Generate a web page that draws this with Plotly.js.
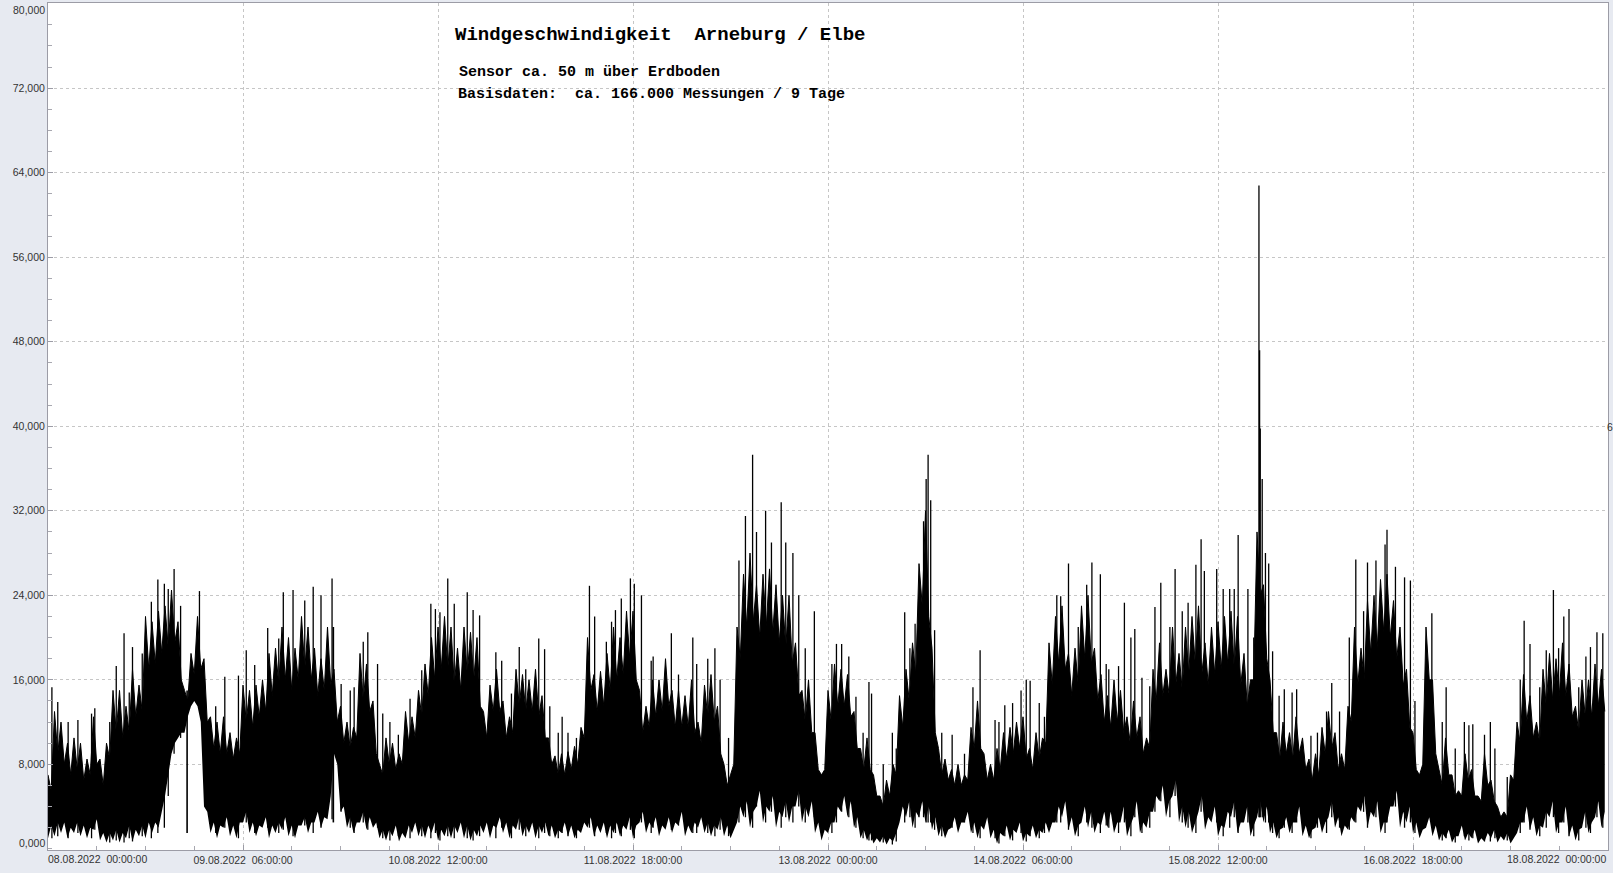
<!DOCTYPE html>
<html>
<head>
<meta charset="utf-8">
<script src="https://cdn.plot.ly/plotly-3.0.1.min.js"></script>
<style>
  html, body { margin: 0; padding: 0; background: #e7eaf1; }
  #chart { width: 1613px; height: 873px; }
</style>
</head>
<body>
<div id="chart"></div>
<script>
// Hourly upper edge of the dense band (hour 0 = 08.08.2022 00:00)
const bandHigh = [
  7000,13000,12000,10000,10500,10000,8500,12500,8500,10000,
  15000,15000,13500,17000,15500,22000,21500,22500,23000,24500,
  21500,15000,18500,22000,18000,12500,12000,12500,11000,10500,
  15500,15000,15500,16000,18500,19000,21000,20000,19000,22000,
  21000,19000,18000,21000,17000,13500,12000,11500,18500,17500,
  14000,8000,10500,10000,9000,13000,12500,15000,17500,20000,
  21000,22000,21000,19000,21000,20500,20000,13000,15500,17000,
  14000,12500,17000,16500,16000,17000,14500,10500,8800,9000,
  9200,9700,11500,20000,16500,16800,18500,21000,20000,22500,
  22500,15000,13500,16000,16000,18000,15000,15000,14500,16000,
  12000,15500,16500,13500,8000,7000,21000,26000,28000,25000,
  26000,26500,25000,24000,24000,19500,15000,16000,11000,7000,
  15000,17500,17000,16500,13000,9500,10500,7000,5000,6500,
  8000,14500,17000,19500,27000,32000,19000,9500,8500,7500,
  8000,7000,11500,14000,9000,8000,9500,11000,11500,12000,
  12500,9500,11000,10500,19500,22000,23000,18500,19000,23000,
  24000,19000,16500,14500,16000,15000,12500,14000,12500,10500,
  17000,19500,17000,21000,18500,21000,22000,23000,19500,21000,
  21500,22000,22500,22000,18500,16000,30000,25000,16000,11000,
  12000,11000,12500,10500,8500,9000,11500,13000,11000,9000,
  13500,21000,19000,23500,24000,25500,26000,23500,21000,17000,
  11000,7000,21000,16000,7500,10500,7000,5500,9000,7500,
  5000,9000,6500,4000,3500,7000,12000,16500,14500,12000,
  17000,18500,18000,19500,17500,13500,16000,16000,17500,17000
];
// Upper edge between the hourly tops (at hour + 0.5): the white notches between strokes
const bandHighMid = [
  5500,9000,8000,7000,7500,6500,7000,8000,6000,8500,
  11000,10500,11000,12500,13000,17000,17500,18500,19000,19500,
  16000,14000,16500,17000,12000,9500,9000,9000,8500,9000,
  12000,11500,12500,13000,14500,15500,16000,15000,16000,17000,
  16000,14500,15000,15500,12000,10000,9500,10500,14000,13000,
  9000,7000,8000,7500,8000,10000,10500,12500,14500,16000,
  17000,17000,15500,15000,16500,16000,13500,10500,13000,13000,
  10500,11000,13500,13000,13000,12500,10500,8000,7000,7000,
  7500,8000,10500,15000,13000,13500,15000,16000,16500,18000,
  16000,11000,11500,12500,13000,13500,11500,11500,11500,11000,
  10000,12500,12000,9000,6000,8000,18000,21000,21500,20000,
  21000,20500,19500,19000,17500,14500,12000,11000,7500,7500,
  12000,13500,13500,12500,9500,7500,7500,5000,4000,5000,
  7000,11500,14000,16500,23000,22000,11000,7000,6500,6000,
  6000,6500,9500,9500,6500,6500,7500,8500,9000,9500,
  8500,7500,8500,10000,15500,17500,17000,14500,15500,18000,
  17500,14000,12000,11500,12000,11000,10000,10500,9000,9500,
  14000,14500,14500,15500,15000,16500,17500,16500,15500,16500,
  17000,17500,17000,15500,13500,16000,24000,18000,11000,8500,
  9000,8500,9000,7500,6500,7000,9000,9500,7500,7500,
  12000,15500,16000,18500,19000,20500,20000,18000,15500,11500,
  7500,8000,16000,9000,6000,7000,5000,5000,6500,5000,
  4500,6000,4500,3000,3000,6500,10000,12000,10500,10000,
  13500,14000,14500,14500,12500,11000,12500,12500,13500,13000
];
// Hourly lower edge of the dense band
const bandLow = [
  1000,1200,1500,1000,1500,1200,1000,1800,800,600,
  800,600,1000,700,1200,1000,1500,2000,5000,9000,
  10500,11000,13500,13500,4000,1500,1000,2000,1200,1000,
  2500,1500,1200,2000,1000,1500,1800,1200,1000,2200,
  1500,2500,2000,2800,9000,3500,2000,1500,2500,1800,
  2000,1000,800,1200,700,1000,1500,1200,1000,1500,
  800,1200,1000,1500,1000,800,1200,1500,1000,2000,
  1500,1000,1800,1200,1500,1000,1500,1200,1000,1500,
  1200,1000,1500,2000,1200,1500,1000,1500,1200,1800,
  1000,2500,1500,2000,1200,1800,1500,2200,1200,1500,
  2000,1500,1200,1800,1200,1000,2500,3000,2000,4000,
  2500,3500,2000,3000,2500,4000,2500,3000,1500,800,
  1500,2500,3500,3000,2000,1000,800,500,600,400,
  700,2500,3000,2000,3000,2500,1800,1200,1000,2000,
  1500,2500,1500,1000,1800,1000,500,1200,800,1500,
  700,1200,1000,1500,1500,2500,3000,1800,1200,2500,
  2000,1500,2200,2000,1500,2500,1200,3000,1500,2000,
  3500,4500,3000,5000,2500,2000,1500,3500,1800,2500,
  1200,2000,3000,1500,2500,1200,3000,2500,1500,1000,
  2000,1500,2500,1200,1000,2000,1500,3000,2000,1200,
  1800,2500,3500,2000,3000,1500,2500,4000,2000,2500,
  1500,1000,2000,1200,800,1000,600,1200,800,1000,
  500,700,1000,600,800,500,1500,2500,1800,1200,
  2000,3000,1500,2500,1200,800,2000,1500,3000,2000
];
// Lower edge between the hourly lows (at hour + 0.5)
const bandLowMid = [
  2200,2500,2500,2000,2500,2200,2000,2800,1500,1500,
  1800,1500,2200,1800,2200,2500,2500,3500,7000,10000,
  11000,12500,14000,12000,3500,2500,2200,3000,2200,2500,
  3500,2500,2200,3000,2200,2500,3000,2200,2200,3000,
  2500,3500,3000,5000,8000,4000,3000,2500,3500,3000,
  2500,1800,1800,2200,1500,2200,2500,2200,2200,2500,
  1800,2200,2200,2500,2200,1800,2200,2500,2200,3000,
  2500,2200,3000,2200,2500,2200,2500,2200,1800,2500,
  2200,1800,2500,3000,2200,2500,2200,2500,2200,3000,
  2200,3500,2500,3000,2200,3000,2500,3500,2200,2500,
  3000,2500,2200,3000,2200,1800,4000,4500,3500,5500,
  4000,5000,3500,4500,4000,5500,4000,4500,2500,1800,
  2500,4000,5000,4500,3000,1800,1500,1000,1200,1000,
  1500,4000,4500,3500,4500,4000,3000,2200,1800,3000,
  2500,3500,2500,2200,3000,1800,1500,2200,1800,2500,
  1500,2200,1800,2500,2500,4000,4500,3000,2200,4000,
  3500,2500,3500,3500,2500,4000,2200,4500,2500,3500,
  5000,6000,4500,6500,4000,3500,2500,5000,3000,4000,
  2200,3500,4500,2500,4000,2200,4500,4000,2500,1800,
  3000,2500,4000,2200,1800,3000,2500,4500,3000,2200,
  3000,4000,5000,3500,4500,2500,4000,5500,3500,4000,
  2500,1800,3000,2200,1500,1800,1200,2200,1500,1800,
  1000,1500,1800,1200,1500,1000,2500,4000,3000,2200,
  3500,4500,2500,4000,2200,1800,3500,2500,4500,3500
];
// Individual gust peaks: time in hours, value
const peakHours = [
  0.6,1.5,3.1,4.6,6.7,7.2,9.5,10.5,11.7,12.5,13.0,14.5,15.9,16.9,17.9,18.5,19.4,20.4,23.3,25.8,
  27.2,29.3,30.5,31.8,33.8,35.5,36.2,37.7,39.5,40.8,42.0,43.7,45.1,46.5,47.1,48.5,49.2,50.7,51.5,52.6,
  53.9,55.7,57.5,58.9,59.6,60.3,61.5,62.5,64.5,65.4,66.4,68.9,69.8,71.3,72.5,73.5,75.5,76.4,77.2,78.5,
  79.1,80.0,81.3,83.3,84.1,85.9,86.7,87.3,88.2,89.6,90.2,91.3,92.8,93.1,95.9,97.0,99.2,99.8,101.5,102.6,
  103.4,104.7,106.3,107.3,108.4,109.0,110.4,111.3,112.8,113.5,114.6,115.5,116.5,117.9,120.6,121.3,122.1,123.2,124.3,125.4,
  126.3,126.7,128.5,129.9,130.5,131.8,132.6,133.4,134.0,134.7,135.1,135.4,135.8,136.4,137.5,139.1,141.0,142.3,143.4,145.7,
  146.3,147.2,148.4,149.7,150.5,151.1,152.5,153.3,155.2,155.8,157.0,158.5,159.8,160.6,161.9,162.8,163.2,164.7,165.6,166.6,
  167.2,168.3,169.5,170.3,171.2,172.6,173.4,174.5,175.4,176.6,177.4,177.9,179.8,180.8,181.8,182.5,183.1,184.6,185.5,186.3,
  186.4,186.5,186.8,187.3,187.8,188.4,189.4,190.2,191.4,192.1,194.3,195.3,196.7,197.5,198.7,200.2,201.2,202.4,203.0,204.3,
  205.7,206.0,207.3,208.7,209.6,210.3,212.9,214.5,215.1,216.5,217.9,218.6,219.2,221.0,221.9,222.6,224.5,226.5,227.1,228.0,
  229.5,230.5,231.6,232.4,233.2,234.0,235.5,236.6,237.3,238.3,239.2
];
const peakValues = [
  15300,13900,12000,12200,12800,13300,12000,17300,20400,14800,19100,18500,23400,25500,25100,24600,26500,23000,24400,13500,
  16300,16400,18800,17400,20900,19900,24300,24500,23500,24800,24000,25600,15600,15000,15300,19600,20500,17500,12800,12000,
  10800,14200,16900,23200,22700,22400,25600,23200,24300,22600,22100,18600,17800,14700,19100,17000,19900,18900,13500,11000,
  12500,11000,10500,24900,22000,19600,21500,22600,23700,25600,25100,24000,17800,18200,20400,16500,20000,17500,18000,19000,
  16000,10500,27300,31500,37300,30000,32000,29000,32800,29000,28000,24000,19000,22500,17500,19400,19400,18200,14400,11000,
  15800,14700,8000,11000,9500,22400,19000,21300,22900,31000,35000,37300,33000,20700,11000,10800,9000,15300,18800,12200,
  12000,13600,13800,15000,16000,15900,13800,12500,24000,23900,27000,21000,25000,27100,26000,17500,17000,17300,23300,20000,
  20800,16200,15400,22900,25200,21000,26500,22500,23300,26900,29300,26300,26500,24600,24600,24600,29700,24600,20000,62800,
  47200,39800,35000,28000,27000,18700,14500,15100,14800,15100,10700,11000,13000,15700,13000,20000,27400,22500,27100,27300,
  28800,30200,26700,25700,25400,14000,22300,12000,15300,9500,12000,11700,11800,10800,12000,9500,6800,16000,21600,19400,
  15300,18800,24500,19000,22000,22700,15300,18200,19100,20500,20400
];
// Narrow downward cuts: time in hours, lowest value
const dipHours = [21.4, 43.9];
const dipValues = [1500, 2500];

const xTickVals = [30, 60, 90, 120, 150, 180, 210];
const xTickText = [
  "09.08.2022  06:00:00", "10.08.2022  12:00:00", "11.08.2022  18:00:00",
  "13.08.2022  00:00:00", "14.08.2022  06:00:00", "15.08.2022  12:00:00",
  "16.08.2022  18:00:00"
];
const xFirstLabel = "08.08.2022  00:00:00";
const xLastLabel = "18.08.2022  00:00:00";
const yTickVals = [8000, 16000, 24000, 32000, 40000, 48000, 56000, 64000, 72000];
const yTickText = ["8,000","16,000","24,000","32,000","40,000","48,000","56,000","64,000","72,000"];

const nb = s => s.replace(/ /g, "\u00a0");

// Interleave hourly edges with the half-hour notch values
const bx = [], bHi = [], bLo = [];
bandHigh.forEach((v, i) => {
  bx.push(i, i + 0.5);
  bHi.push(v, bandHighMid[i]);
  bLo.push(bandLow[i], bandLowMid[i]);
});

const sx = [], sy = [];
peakHours.forEach((t, i) => {
  const k = Math.min(bandLow.length - 1, Math.floor(t));
  sx.push(t, t, null);
  sy.push(bandLow[k], peakValues[i], null);
});
const dx = [], dy = [];
dipHours.forEach((t, i) => {
  const k = Math.min(bandHigh.length - 1, Math.floor(t));
  dx.push(t, t, null);
  dy.push(bandHigh[k], dipValues[i], null);
});

const traces = [
  { x: bx, y: bLo, type: "scatter", mode: "lines",
    line: { color: "rgba(0,0,0,0)", width: 0 }, hoverinfo: "skip", showlegend: false },
  { x: bx, y: bHi, type: "scatter", mode: "lines", fill: "tonexty",
    fillcolor: "#000000", line: { color: "#000000", width: 1 }, showlegend: false },
  { x: sx, y: sy, type: "scatter", mode: "lines",
    line: { color: "#000000", width: 1.3 }, connectgaps: false, showlegend: false },
  { x: dx, y: dy, type: "scatter", mode: "lines",
    line: { color: "#000000", width: 1.6 }, connectgaps: false, showlegend: false }
];

const L = 48, R = 1608, T = 3, B = 850;
const px = v => (v - L) / (R - L);
const py = v => (B - v) / (B - T);

const monoFont = "Liberation Mono, DejaVu Sans Mono, monospace";
const tickFont = { family: "Liberation Sans, Arial, sans-serif", size: 10.5, color: "#333333" };

const annotations = [
  { text: nb("Windgeschwindigkeit  Arneburg / Elbe"), x: px(453), y: py(35), xref: "paper", yref: "paper",
    xanchor: "left", yanchor: "middle", showarrow: false,
    font: { family: monoFont, size: 19, color: "#000", weight: "bold" } },
  { text: nb("Sensor ca. 50 m über Erdboden"), x: px(457), y: py(72.5), xref: "paper", yref: "paper",
    xanchor: "left", yanchor: "middle", showarrow: false,
    font: { family: monoFont, size: 15, color: "#000", weight: "bold" } },
  { text: nb("Basisdaten:  ca. 166.000 Messungen / 9 Tage"), x: px(456), y: py(95), xref: "paper", yref: "paper",
    xanchor: "left", yanchor: "middle", showarrow: false,
    font: { family: monoFont, size: 15, color: "#000", weight: "bold" } },
  { text: nb(xFirstLabel), x: px(46), y: py(859), xref: "paper", yref: "paper",
    xanchor: "left", yanchor: "middle", showarrow: false, font: tickFont },
  { text: nb(xLastLabel), x: px(1608), y: py(859), xref: "paper", yref: "paper",
    xanchor: "right", yanchor: "middle", showarrow: false, font: tickFont },
  { text: "80,000", x: px(47), y: py(10), xref: "paper", yref: "paper",
    xanchor: "right", yanchor: "middle", showarrow: false, font: tickFont },
  { text: "0,000", x: px(47), y: py(843), xref: "paper", yref: "paper",
    xanchor: "right", yanchor: "middle", showarrow: false, font: tickFont },
  { text: "6", x: px(1605), y: py(427), xref: "paper", yref: "paper",
    xanchor: "left", yanchor: "middle", showarrow: false, font: tickFont }
];

const layout = {
  width: 1613, height: 873,
  margin: { l: L, r: 1613 - R, t: T, b: 873 - B, pad: 0 },
  paper_bgcolor: "#e7eaf1",
  plot_bgcolor: "#ffffff",
  showlegend: false,
  xaxis: {
    range: [0, 240], tickmode: "array", tickvals: xTickVals, ticktext: xTickText.map(nb),
    showgrid: true, gridcolor: "#c6c6c6", griddash: "3px,3px", gridwidth: 1,
    zeroline: false, showline: true, linecolor: "#9c9ca6", linewidth: 1, mirror: true,
    ticks: "inside", ticklen: 5, tickcolor: "#9c9ca6",
    minor: { tickmode: "linear", tick0: 0, dtick: 7.5, ticks: "inside", ticklen: 4, tickcolor: "#a8a8b0", showgrid: false },
    tickfont: tickFont, fixedrange: true
  },
  yaxis: {
    range: [-110, 80070], tickmode: "array", tickvals: yTickVals, ticktext: yTickText,
    showgrid: true, gridcolor: "#c6c6c6", griddash: "3px,3px", gridwidth: 1,
    zeroline: false, showline: true, linecolor: "#9c9ca6", linewidth: 1, mirror: true,
    ticks: "inside", ticklen: 5, tickcolor: "#9c9ca6",
    minor: { tickmode: "linear", tick0: 0, dtick: 2000, ticks: "inside", ticklen: 4, tickcolor: "#a8a8b0", showgrid: false },
    tickfont: tickFont, fixedrange: true
  },
  annotations: annotations
};

Plotly.newPlot("chart", traces, layout, { staticPlot: true, displayModeBar: false });
</script>
</body>
</html>
